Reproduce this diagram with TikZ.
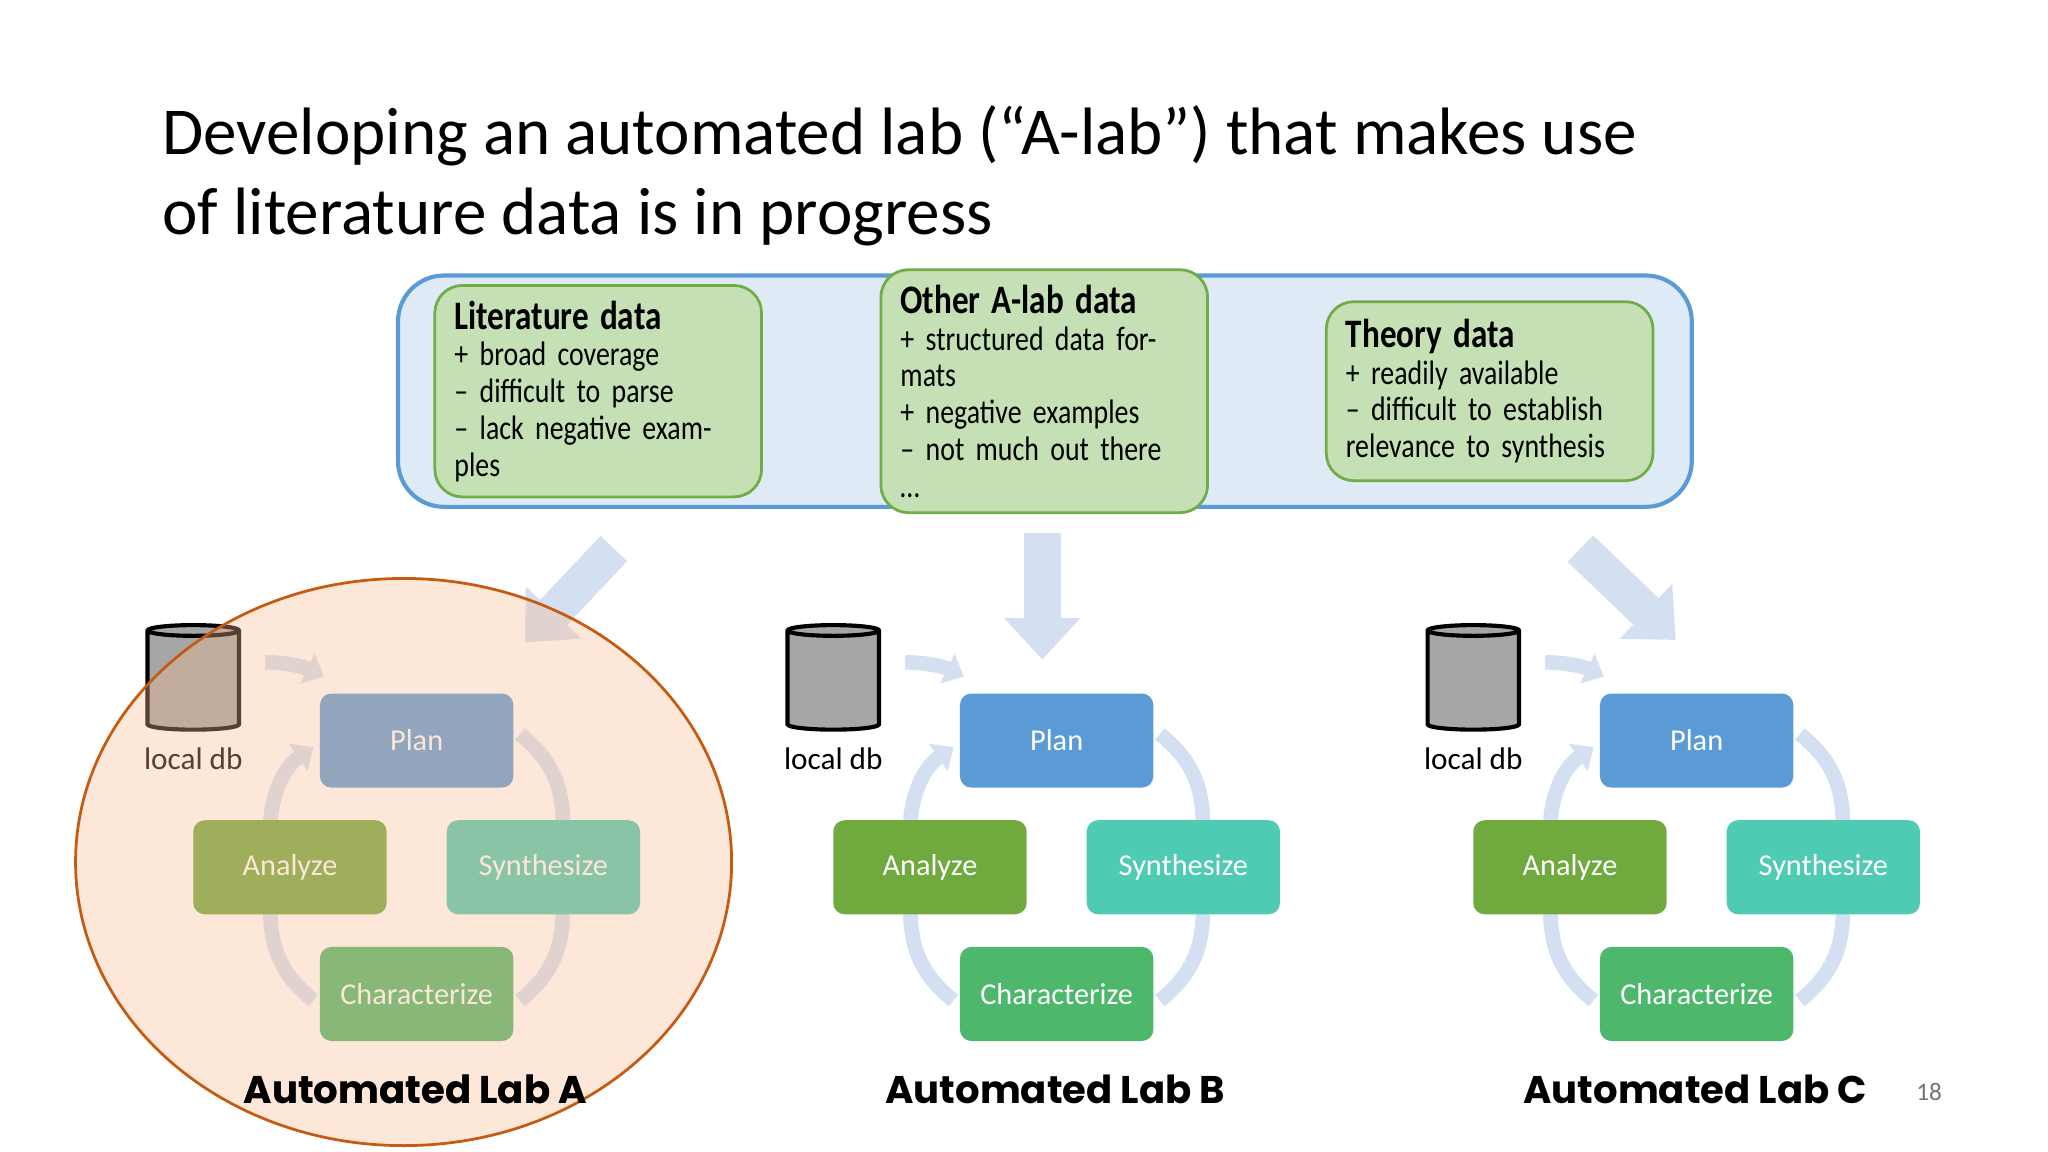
\documentclass[tikz,border=0pt]{standalone}
\usepackage{fontspec}
\setmainfont{Carlito}
\newfontfamily\narrowfont{Carlito}[FakeStretch=0.82]
\newfontfamily\labfont{Poppins}[UprightFont=* Bold]
\usetikzlibrary{shapes,arrows.meta,positioning}
\definecolor{outerfill}{HTML}{DEEAF6}
\definecolor{outerline}{HTML}{5B9BD5}
\definecolor{datafill}{HTML}{C5E0B4}
\definecolor{dataline}{HTML}{70AD47}
\definecolor{planc}{HTML}{5B9BD5}
\definecolor{analyzec}{HTML}{70A93E}
\definecolor{synthc}{HTML}{4FCAB3}
\definecolor{charc}{HTML}{4DB86B}
\definecolor{flowc}{HTML}{D4E0F1}
\definecolor{ovalc}{HTML}{F8B990}
\definecolor{ovalline}{HTML}{C55A11}
\tikzstyle{datablock} = [rectangle, draw=dataline, line width=0.6pt, fill=datafill, rounded corners=6pt, minimum width=2.5cm, minimum height=1.37cm, align=left, text width=2.2cm, font=\narrowfont\fontsize{7.4}{8}\selectfont]
\tikzstyle{labstep} = [rectangle, rounded corners=2.5pt, minimum width=1.48cm, minimum height=0.72cm, text=white, font=\fontsize{6.6}{7}\selectfont]
\tikzstyle{cycle} = [draw=flowc, line width=3.2pt]
\tikzstyle{feed} = [draw=flowc, line width=8pt, -{Triangle[width=16pt,length=9pt]}]

\begin{document}
\begin{tikzpicture}[x=0.01cm, y=-0.01cm]
	\useasboundingbox (0,0) rectangle (1568,882);
	\node [anchor=north west, align=left, font=\fontsize{14.6}{17.6}\selectfont] (title) at (112,68) {Developing an automated lab (“A-lab”) that makes use\\of literature data is in progress};

	% data sources
	\node [draw=outerline, line width=0.9pt, fill=outerfill, rounded corners=10pt, minimum width=9.9cm, minimum height=1.77cm] (sources) at (800,299.5) {};
	\node [datablock] (literature) at (458,299.5) {{\bfseries\fontsize{8.8}{10}\selectfont Literature data}\\+ broad coverage\\– difficult to parse\\– lack negative examples};
	\node [datablock] (otherlab) at (799.5,299.5) {{\bfseries\fontsize{8.8}{10}\selectfont Other A-lab data}\\+ structured data formats\\+ negative examples\\– not much out there …};
	\node [datablock] (theory) at (1140.5,299.5) {{\bfseries\fontsize{8.8}{10}\selectfont Theory data}\\+ readily available\\– difficult to establish\\relevance to synthesis};

	% the three labs
	\foreach \lab/\dx in {A/0, B/490, C/980} {
		\begin{scope}[xshift=\dx*0.01cm]
			\coordinate (dbout\lab) at (203,507);
			\coordinate (dbin\lab) at (248,518);
			\coordinate (ca\lab) at (207,628);
			\coordinate (cs\lab) at (431,628);
			\coordinate (cs2\lab) at (431,700);
			\coordinate (ca2\lab) at (207,700);
			\draw [cycle, -{Triangle[width=7pt,length=4pt]}] (ca\lab) to [bend left=25] (240,572);
			\draw [cycle] (398,562) to [bend left=25] (cs\lab);
			\draw [cycle] (cs2\lab) to [bend left=25] (398,766);
			\draw [cycle] (240,766) to [bend left=25] (ca2\lab);
			\draw [draw=flowc, line width=3.2pt, -{Triangle[width=7pt,length=4pt]}] (dbout\lab) to [bend left=12] (dbin\lab);
			\node [labstep, fill=planc] (plan\lab) at (319,567) {Plan};
			\node [labstep, fill=analyzec] (analyze\lab) at (222,664) {Analyze};
			\node [labstep, fill=synthc] (synth\lab) at (416,664) {Synthesize};
			\node [labstep, fill=charc] (char\lab) at (319,761) {Characterize};
			\node [cylinder, shape border rotate=90, aspect=0.35, draw, line width=0.9pt, fill=black!35, minimum width=0.7cm, minimum height=0.8cm] (db\lab) at (148,523) {};
			\node [below=0pt of db\lab, font=\fontsize{6.8}{8}\selectfont] (dblabel\lab) {local db};
			\node [font=\labfont\fontsize{8.4}{10}\selectfont] (name\lab) at (318,834) {Automated Lab \lab};
		\end{scope}
	}
	\coordinate (feedA) at (470,420);
	\coordinate (feedB) at (798,408);
	\coordinate (feedC) at (1210,420);
	\coordinate (hitA) at (402,492);
	\coordinate (hitB) at (798,505);
	\coordinate (hitC) at (1283,490);
	\draw [feed] (feedA) -- (hitA);
	\draw [feed] (feedB) -- (hitB);
	\draw [feed] (feedC) -- (hitC);

	% highlight of lab A
	\node [ellipse, draw=ovalline, line width=0.6pt, fill=ovalc, fill opacity=0.35, minimum width=5.02cm, minimum height=4.34cm] (focus) at (309,660) {};
	\node [font=\labfont\fontsize{8.4}{10}\selectfont] (nameAtop) at (nameA) {Automated Lab A};

	\node [text=black!55, font=\fontsize{5.5}{6}\selectfont] (page) at (1477,836) {18};
\end{tikzpicture}
\end{document}
